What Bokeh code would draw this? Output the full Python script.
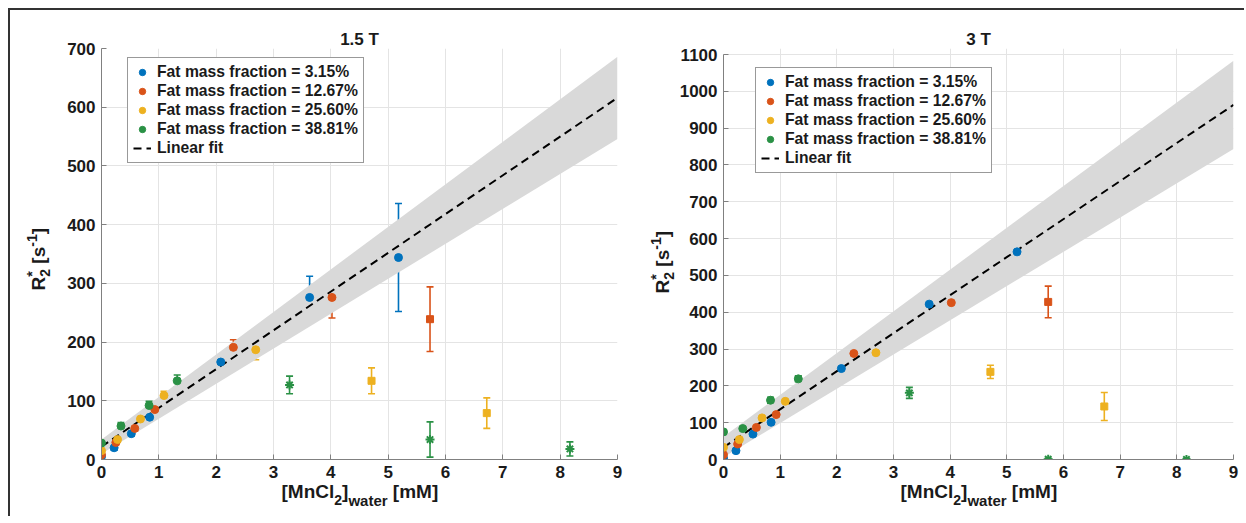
import numpy as np
from bokeh.plotting import figure
from bokeh.models import (Range1d, FixedTicker, ColumnDataSource, Whisker, TeeHead,
                          Legend, LegendItem, Div)
from bokeh.layouts import row
from bokeh.embed import file_html
from bokeh.resources import INLINE

# ---------------- data ----------------
series_labels = ["Fat mass fraction = 3.15%", "Fat mass fraction = 12.67%",
                 "Fat mass fraction = 25.60%", "Fat mass fraction = 38.81%"]
fit_label = "Linear fit"
titles = ["1.5 T", "3 T"]

# MnCl2 concentration in water [mM] for each fat fraction
conc_blue = [0, 0.22, 0.52, 0.84, 2.08, 3.63, 5.18]
conc_orange = [0, 0.25, 0.58, 0.93, 2.30, 4.02, 5.73]
conc_yellow = [0, 0.28, 0.68, 1.09, 2.69, 4.71, 6.72]
conc_green = [0, 0.34, 0.83, 1.32, 3.28, 5.73, 8.17]

# number of points (from the start) that are included in the fit
n_fitted = [7, 6, 5, 4]

# 1.5 T  R2* [1/s]
r15_blue = [5, 20, 44, 72, 166, 276, 344]
r15_blue_err = [3, 4, 4, 5, 8, 36, 92]
r15_orange = [8, 29, 53, 85, 191, 276, 239]
r15_orange_err = [3, 4, 5, 6, 13, 35, 55]
r15_yellow = [15, 34, 69, 109, 187, 134, 79]
r15_yellow_err = [4, 5, 6, 7, 17, 22, 26]
r15_green = [28, 57, 92, 134, 127, 34, 18]
r15_green_err = [5, 6, 7, 10, 15, 30, 12]

fit15_x = [0, 9]
fit15_y = [22, 616]
band15_lo = [10, 546]
band15_hi = [34, 686]

# 3 T  R2* [1/s]
r3_blue = [4, 24, 69, 101, 247, 422, 564]
r3_blue_err = [4, 5, 6, 6, 8, 18, 31]
r3_orange = [13, 42, 87, 122, 288, 426, 428]
r3_orange_err = [5, 5, 6, 7, 12, 30, 43]
r3_yellow = [33, 54, 113, 158, 290, 238, 144]
r3_yellow_err = [5, 6, 7, 8, 12, 18, 38]
r3_green = [75, 84, 161, 219, 181, 1, 0]
r3_green_err = [6, 6, 8, 8, 15, 2, 2]

fit3_x = [0, 9]
fit3_y = [33, 963]
band3_lo = [6, 843]
band3_hi = [62, 1083]

x_ticks = [0, 1, 2, 3, 4, 5, 6, 7, 8, 9]
y15_ticks = [0, 100, 200, 300, 400, 500, 600, 700]
y3_ticks = [0, 100, 200, 300, 400, 500, 600, 700, 800, 900, 1000, 1100]

# ---------------- style ----------------
FONT = "Liberation Sans"
COLORS = ["#0072BD", "#D95319", "#EDB120", "#2A9145"]
EXCL_MARKERS = ["circle", "square", "square", "asterisk"]
TXT = "#1a1a1a"
AXC = "#808080"
H = 506
MBT = 38
MBB = 57


def make_panel(title, ymax, ytop, yticks, concs, vals, errs, fit_x, fit_y, band_lo, band_hi,
               width, mbl, mbr, legend_loc):
    p = figure(width=width, height=H, output_backend="svg", toolbar_location=None,
               x_range=Range1d(0, 9), y_range=Range1d(0, ytop),
               min_border_left=mbl, min_border_right=mbr, min_border_top=MBT,
               min_border_bottom=MBB)
    p.outline_line_color = None
    p.background_fill_color = "white"
    p.border_fill_color = "white"
    p.title.text = title
    p.title.align = "center"
    p.title.text_font = FONT
    p.title.text_font_size = "17px"
    p.title.text_font_style = "bold"
    p.title.text_color = TXT
    p.title.standoff = 0

    p.xaxis.ticker = FixedTicker(ticks=x_ticks)
    p.yaxis.ticker = FixedTicker(ticks=yticks)
    p.yaxis.bounds = (0, ymax)
    for ax in (p.xaxis, p.yaxis):
        ax.axis_line_color = AXC
        ax.axis_line_width = 1
        ax.major_tick_line_color = AXC
        ax.major_tick_in = 5
        ax.major_tick_out = 0
        ax.minor_tick_line_color = None
        ax.major_label_text_font = FONT
        ax.major_label_text_font_size = "17px"
        ax.major_label_text_font_style = "bold"
        ax.major_label_text_color = TXT
        ax.major_label_standoff = 6
    p.grid.grid_line_color = "#e4e4e4"
    p.grid.grid_line_width = 1

    p.varea(x=fit_x, y1=band_lo, y2=band_hi, fill_color="#d9d9d9", fill_alpha=1.0)
    fit_r = p.line(fit_x, fit_y, line_color="black", line_width=2, line_dash="8 5")

    items = []
    for i in range(4):
        c = COLORS[i]
        x = np.array(concs[i], dtype=float)
        y = np.array(vals[i], dtype=float)
        e = np.array(errs[i], dtype=float)
        src = ColumnDataSource(dict(x=x, upper=y + e, lower=y - e))
        p.add_layout(Whisker(source=src, base="x", upper="upper", lower="lower",
                             line_color=c, line_width=1.6,
                             upper_head=TeeHead(size=7, line_color=c, line_width=1.6),
                             lower_head=TeeHead(size=7, line_color=c, line_width=1.6)))
        n = n_fitted[i]
        r = p.scatter(x[:n], y[:n], marker="circle", size=8, fill_color=c, line_color=c)
        if n < len(x):
            p.scatter(x[n:], y[n:], marker=EXCL_MARKERS[i], size=9 if i == 3 else 7,
                      fill_color=c, line_color=c, line_width=2 if i == 3 else 1)
        items.append(LegendItem(label=series_labels[i], renderers=[r]))
    items.append(LegendItem(label=fit_label, renderers=[fit_r]))

    leg = Legend(items=items, location=legend_loc)
    leg.label_text_font = FONT
    leg.label_text_font_size = "15.7px"
    leg.label_text_font_style = "bold"
    leg.label_text_color = TXT
    leg.label_height = 16
    leg.glyph_height = 16
    leg.glyph_width = 18
    leg.label_standoff = 6
    leg.spacing = 1
    leg.padding = 5
    leg.margin = 0
    leg.border_line_color = "#333333"
    leg.border_line_width = 1
    leg.background_fill_alpha = 1.0
    p.add_layout(leg)
    return p


p1 = make_panel(titles[0], 700, 700, y15_ticks,
                [conc_blue, conc_orange, conc_yellow, conc_green],
                [r15_blue, r15_orange, r15_yellow, r15_green],
                [r15_blue_err, r15_orange_err, r15_yellow_err, r15_green_err],
                fit15_x, fit15_y, band15_lo, band15_hi,
                width=638, mbl=91, mbr=31, legend_loc=(26, 296))

p2 = make_panel(titles[1], 1100, 1116.3, y3_ticks,
                [conc_blue, conc_orange, conc_yellow, conc_green],
                [r3_blue, r3_orange, r3_yellow, r3_green],
                [r3_blue_err, r3_orange_err, r3_yellow_err, r3_green_err],
                fit3_x, fit3_y, band3_lo, band3_hi,
                width=596, mbl=75, mbr=11, legend_loc=(32, 286))

# ---------------- axis labels (HTML text with sub/superscripts) ----------------
BASE = ("font-family:'Liberation Sans'; font-weight:bold; font-size:19px; "
        "line-height:19px; color:#1a1a1a; white-space:nowrap;")
XLAB = ('<div style="' + BASE + '">[MnCl<span style="font-size:14px; vertical-align:-7px">2</span>]'
        '<span style="font-size:15px; vertical-align:-8px">water</span> [mM]</div>')
YLAB = ('<div style="' + BASE + '">R<span style="display:inline-block; font-size:14px; '
        'line-height:13px; vertical-align:-5px; text-align:left">'
        '<span style="display:block">*</span><span style="display:block">2</span></span>'
        ' [s<span style="font-size:14px; vertical-align:8px">-1</span>]</div>')

LW, LH = 220, 19


def xlabel_div(left, baseline):
    return Div(text=XLAB, width=LW, height=LH, margin=0,
               styles={"position": "absolute", "left": f"{left}px",
                       "top": f"{baseline - 16}px", "overflow": "visible"})


def ylabel_div(baseline_x, text_bottom):
    # the text is left aligned in the box; after rotating by -90 deg it starts at the box bottom
    cx = baseline_x - 6.5
    cy = text_bottom - LW / 2
    return Div(text=YLAB, width=LW, height=LH, margin=0,
               styles={"position": "absolute", "left": f"{cx - LW / 2}px",
                       "top": f"{cy - LH / 2}px", "transform": "rotate(-90deg)",
                       "overflow": "visible"})


# positions relative to the bordered container (page origin + 10 px)
labels = [xlabel_div(271.5, 488), xlabel_div(890.5, 488),
          ylabel_div(28, 280.5), ylabel_div(652, 283)]

layout = row(p1, p2, *labels,
             styles={"border-top": "2px solid #333333", "border-left": "2px solid #333333",
                     "margin-left": "8px", "margin-top": "8px", "position": "relative"})

open("out.html", "w").write(file_html(layout, INLINE))
